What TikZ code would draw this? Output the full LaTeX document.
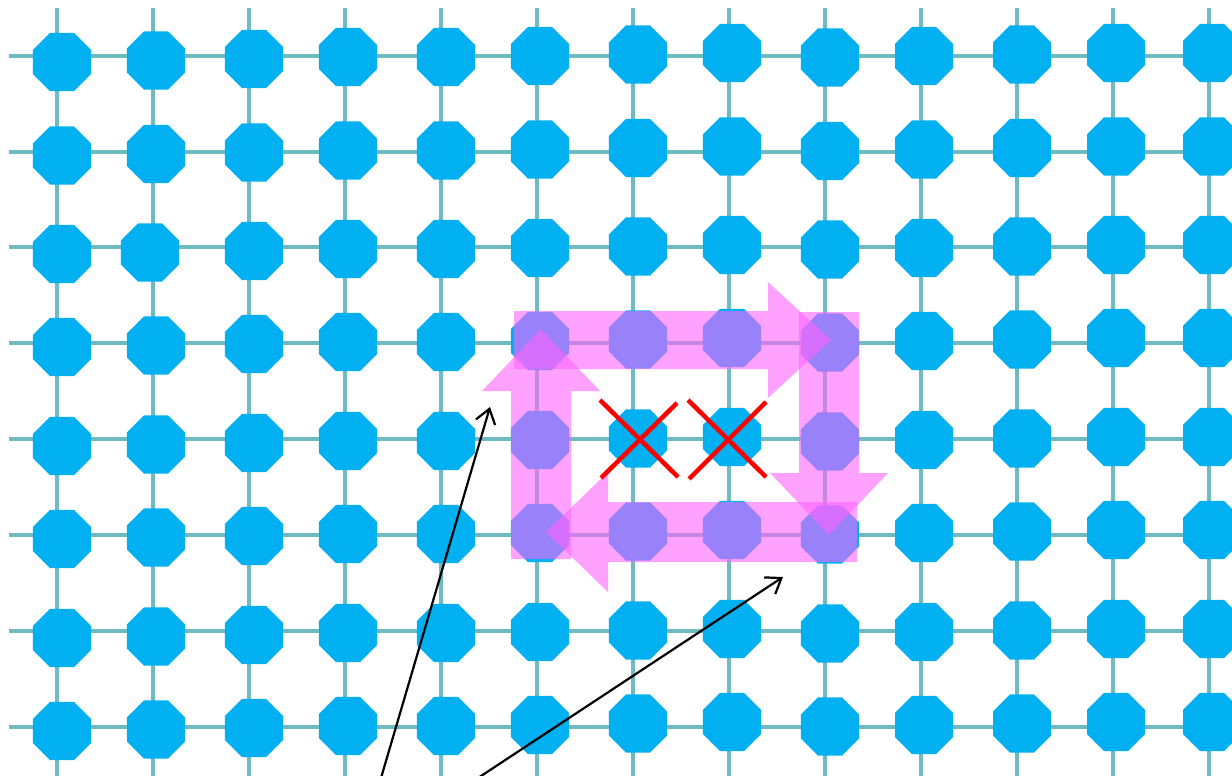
\documentclass[tikz,border=0pt]{standalone}
\usetikzlibrary{shapes.geometric,arrows.meta}
\definecolor{octc}{RGB}{0,176,240}
\definecolor{gridc}{RGB}{110,187,194}
\definecolor{pinkc}{RGB}{255,100,255}
\begin{document}
\begin{tikzpicture}[x=1pt,y=-1pt,
  gridline/.style={draw=gridc,line width=4pt},
  octa/.style={regular polygon,regular polygon sides=8,minimum size=62.8pt,inner sep=0pt,fill=octc,draw=none},
  blockarrow/.style={fill=pinkc,fill opacity=0.6,draw=none},
  redx/.style={draw=red,line width=4.5pt},
  ptr/.style={draw=black,line width=2.2pt,-{Straight Barb[length=14pt,width=20pt,line width=2.2pt]}}]
\useasboundingbox (0,0) rectangle (1232,776);
% grid lines
\foreach \x in {57,153,249,345,441,537,633,729,825,921,1017,1113,1209}
  \draw[gridline] (\x,8) -- (\x,776);
\foreach \y in {56,152,247,343,439,535,631,727}
  \draw[gridline] (9,\y) -- (1232,\y);
% octagons
\foreach \r/\yb in {1/62,2/155.5,3/254,4/347,5/446,6/539,7/638,8/731}{
  \foreach \c/\xc/\off in {1/62/0,2/156/-1.5,3/254/-3,4/348/-5,5/446/-5,6/540/-6,7/638/-7.5,8/732/-9,9/830/-4.5,10/924/-6,11/1022/-7.5,12/1116/-9,13/1212/-9}{
    \pgfmathsetmacro\xx{(\r==3 && \c==2) ? 150 : \xc}
    \node[octa] (o\r-\c) at (\xx,\yb+\off) {};
  }
}
% pink block arrows
\fill[blockarrow] (514,311) -- (768,311) -- (768,282) -- (831,340) -- (768,398) -- (768,369) -- (514,369) -- cycle;
\fill[blockarrow] (799,312) -- (859,312) -- (859,473) -- (888,473) -- (829,535) -- (770,473) -- (799,473) -- cycle;
\fill[blockarrow] (857,502) -- (608,502) -- (608,472) -- (546,532) -- (608,592) -- (608,562) -- (857,562) -- cycle;
\fill[blockarrow] (511,559) -- (511,391) -- (482,391) -- (541,329) -- (600,391) -- (571,391) -- (571,559) -- cycle;
% red crosses
\draw[redx] (600,400) -- (678,477);
\draw[redx] (677,403) -- (601,478);
\draw[redx] (688,400) -- (766,477);
\draw[redx] (766,402) -- (689,479);
% black pointers
\coordinate (s1) at (381,778);
\coordinate (t1) at (490,407);
\coordinate (s2) at (478,778);
\coordinate (t2) at (783,577);
\draw[ptr] (s1) -- (t1);
\draw[ptr] (s2) -- (t2);
\end{tikzpicture}
\end{document}
